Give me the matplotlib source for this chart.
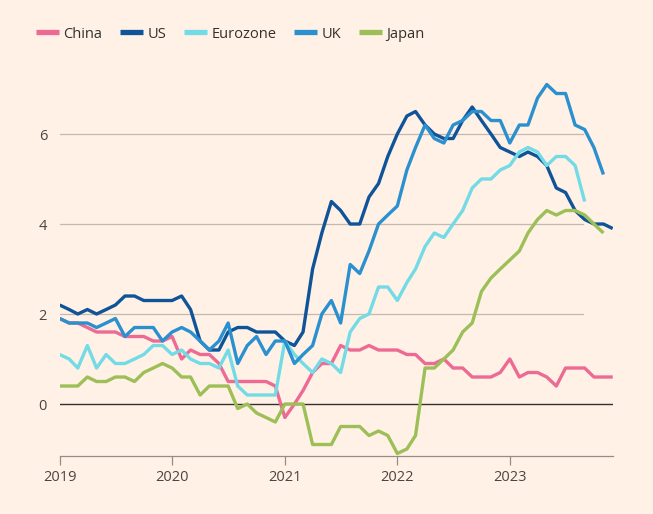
import pandas as pd
import matplotlib.pyplot as plt
from matplotlib.lines import Line2D

# Core inflation, % year on year, monthly from Jan 2019
china = [1.9, 1.8, 1.8, 1.7, 1.6, 1.6, 1.6, 1.5, 1.5, 1.5, 1.4, 1.4,
         1.5, 1.0, 1.2, 1.1, 1.1, 0.9, 0.5, 0.5, 0.5, 0.5, 0.5, 0.4,
         -0.3, 0.0, 0.3, 0.7, 0.9, 0.9, 1.3, 1.2, 1.2, 1.3, 1.2, 1.2,
         1.2, 1.1, 1.1, 0.9, 0.9, 1.0, 0.8, 0.8, 0.6, 0.6, 0.6, 0.7,
         1.0, 0.6, 0.7, 0.7, 0.6, 0.4, 0.8, 0.8, 0.8, 0.6, 0.6, 0.6]
us = [2.2, 2.1, 2.0, 2.1, 2.0, 2.1, 2.2, 2.4, 2.4, 2.3, 2.3, 2.3,
      2.3, 2.4, 2.1, 1.4, 1.2, 1.2, 1.6, 1.7, 1.7, 1.6, 1.6, 1.6,
      1.4, 1.3, 1.6, 3.0, 3.8, 4.5, 4.3, 4.0, 4.0, 4.6, 4.9, 5.5,
      6.0, 6.4, 6.5, 6.2, 6.0, 5.9, 5.9, 6.3, 6.6, 6.3, 6.0, 5.7,
      5.6, 5.5, 5.6, 5.5, 5.3, 4.8, 4.7, 4.3, 4.1, 4.0, 4.0, 3.9]
eurozone = [1.1, 1.0, 0.8, 1.3, 0.8, 1.1, 0.9, 0.9, 1.0, 1.1, 1.3, 1.3,
            1.1, 1.2, 1.0, 0.9, 0.9, 0.8, 1.2, 0.4, 0.2, 0.2, 0.2, 0.2,
            1.4, 1.1, 0.9, 0.7, 1.0, 0.9, 0.7, 1.6, 1.9, 2.0, 2.6, 2.6,
            2.3, 2.7, 3.0, 3.5, 3.8, 3.7, 4.0, 4.3, 4.8, 5.0, 5.0, 5.2,
            5.3, 5.6, 5.7, 5.6, 5.3, 5.5, 5.5, 5.3, 4.5]
uk = [1.9, 1.8, 1.8, 1.8, 1.7, 1.8, 1.9, 1.5, 1.7, 1.7, 1.7, 1.4,
      1.6, 1.7, 1.6, 1.4, 1.2, 1.4, 1.8, 0.9, 1.3, 1.5, 1.1, 1.4,
      1.4, 0.9, 1.1, 1.3, 2.0, 2.3, 1.8, 3.1, 2.9, 3.4, 4.0, 4.2,
      4.4, 5.2, 5.7, 6.2, 5.9, 5.8, 6.2, 6.3, 6.5, 6.5, 6.3, 6.3,
      5.8, 6.2, 6.2, 6.8, 7.1, 6.9, 6.9, 6.2, 6.1, 5.7, 5.1]
japan = [0.4, 0.4, 0.4, 0.6, 0.5, 0.5, 0.6, 0.6, 0.5, 0.7, 0.8, 0.9,
         0.8, 0.6, 0.6, 0.2, 0.4, 0.4, 0.4, -0.1, 0.0, -0.2, -0.3, -0.4,
         0.0, 0.0, 0.0, -0.9, -0.9, -0.9, -0.5, -0.5, -0.5, -0.7, -0.6, -0.7,
         -1.1, -1.0, -0.7, 0.8, 0.8, 1.0, 1.2, 1.6, 1.8, 2.5, 2.8, 3.0,
         3.2, 3.4, 3.8, 4.1, 4.3, 4.2, 4.3, 4.3, 4.2, 4.0, 3.8]

series_names = ["China", "US", "Eurozone", "UK", "Japan"]
series_values = [china, us, eurozone, uk, japan]
colours = ["#ec6a93", "#0f5499", "#72dbe6", "#2a90cf", "#9dbf57"]

years = [2019, 2020, 2021, 2022, 2023]
y_ticks = [0, 2, 4, 6]

bg = "#fff1e5"
text_col = "#4a4541"

fig = plt.figure(figsize=(6.53, 5.14), dpi=100, facecolor=bg)
ax = fig.add_axes([0.0913, 0.1133, 0.847, 0.7398], facecolor=bg)

start = pd.Timestamp("2019-01-01")
for name, vals, col in zip(series_names, series_values, colours):
    dates = pd.date_range(start, periods=len(vals), freq="MS")
    ax.plot(dates, vals, color=col, lw=2.4, solid_joinstyle="round",
            solid_capstyle="butt", zorder=3)

x_end = pd.Timestamp("2023-12-01")
ax.set_xlim(start, x_end)
ax.set_ylim(-1.15, 7.3)

# gridlines stop a little before the end of the axis
for v in y_ticks[1:]:
    ax.axhline(v, xmin=0, xmax=0.947, color="#c4b9ae", lw=0.9, zorder=1)
ax.axhline(0, color="#33302e", lw=1.0, zorder=2)

for s in ["top", "right", "left"]:
    ax.spines[s].set_visible(False)
ax.spines["bottom"].set_color("#948c85")
ax.spines["bottom"].set_linewidth(0.9)

ax.set_xticks([pd.Timestamp(f"{y}-01-01") for y in years])
ax.set_xticklabels([str(y) for y in years])
ax.tick_params(axis="x", length=6.5, width=0.9, color="#948c85", pad=3.5,
               labelsize=10.5, labelcolor=text_col)
ax.set_yticks(y_ticks)
ax.set_yticklabels([str(v) for v in y_ticks])
ax.tick_params(axis="y", length=0, pad=9, labelsize=10.5, labelcolor=text_col)
for lab in ax.get_xticklabels() + ax.get_yticklabels():
    lab.set_fontfamily("Open Sans")

handles = [Line2D([0], [0], color=c, lw=3.8, solid_capstyle="butt") for c in colours]
leg = fig.legend(handles, series_names, loc="center left",
                 bbox_to_anchor=(36 / 653, 1 - 34 / 514), ncol=5, frameon=False,
                 handlelength=1.55, handletextpad=0.3, columnspacing=1.25,
                 borderpad=0, borderaxespad=0,
                 prop={"family": "Open Sans", "size": 10.5})
for t in leg.get_texts():
    t.set_color("#33302e")

fig.savefig("out.png", dpi=100, facecolor=bg)
